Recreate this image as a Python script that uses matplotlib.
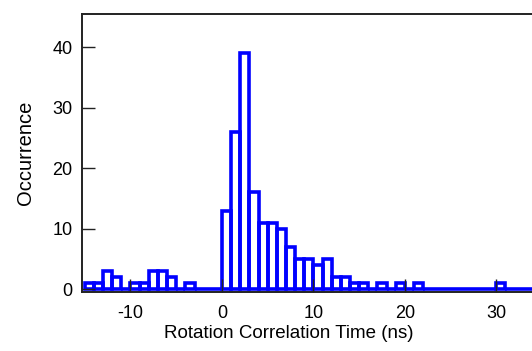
import matplotlib

matplotlib.use("Agg")
import matplotlib.pyplot as plt
import numpy as np

# histogram of rotation correlation times, 1 ns bins starting at -15 ns
bin_start = -15
bin_width = 1.0
counts = [
    1, 1, 3, 2, 0, 1, 1, 3, 3, 2, 0, 1, 0, 0, 0,   # -15 .. -1
    13, 26, 39, 16, 11, 11, 10, 7, 5, 5, 4, 5, 2, 2,  # 0 .. 13
    1, 1, 0, 1, 0, 1, 0, 1, 0, 0, 0, 0, 0, 0, 0, 0,  # 14 .. 29
    1, 0, 0, 0,                                    # 30 .. 33
]
x_ticks = [-10, 0, 10, 20, 30]
y_ticks = [0, 10, 20, 30, 40]

plt.rcParams.update({
    "font.family": ["Liberation Sans", "DejaVu Sans"],
    "font.size": 13,
    "axes.unicode_minus": False,
})

fig = plt.figure(figsize=(5.32, 3.51), dpi=100)
ax = fig.add_axes([82 / 532, 59 / 351, 450 / 532, 278 / 351])

lefts = bin_start + bin_width * np.arange(len(counts))
ax.bar(lefts, counts, width=bin_width, align="edge", fill=False,
       edgecolor="#0000ff", linewidth=2.6, clip_on=True)

ax.set_xlim(-15.3, 33.9)
ax.set_ylim(-0.45, 45.5)
ax.set_xticks(x_ticks)
ax.set_yticks(y_ticks)
ax.tick_params(direction="in", length=9.5, width=1.0, colors="#222222",
               labelcolor="black", labelsize=13)
ax.tick_params(axis="x", pad=9)
ax.tick_params(axis="y", pad=7)
ax.spines["right"].set_visible(False)
for s in ("left", "top", "bottom"):
    ax.spines[s].set_linewidth(1.4)
    ax.spines[s].set_color("#222222")

# the label sits a bit left of the axes centre in the original
fig.text(289 / 532, 17 / 351, "Rotation Correlation Time (ns)",
         ha="center", va="center", fontsize=13.5)
ax.set_ylabel("Occurrence", fontsize=14.5, labelpad=12)

fig.savefig("out.png", dpi=100)
